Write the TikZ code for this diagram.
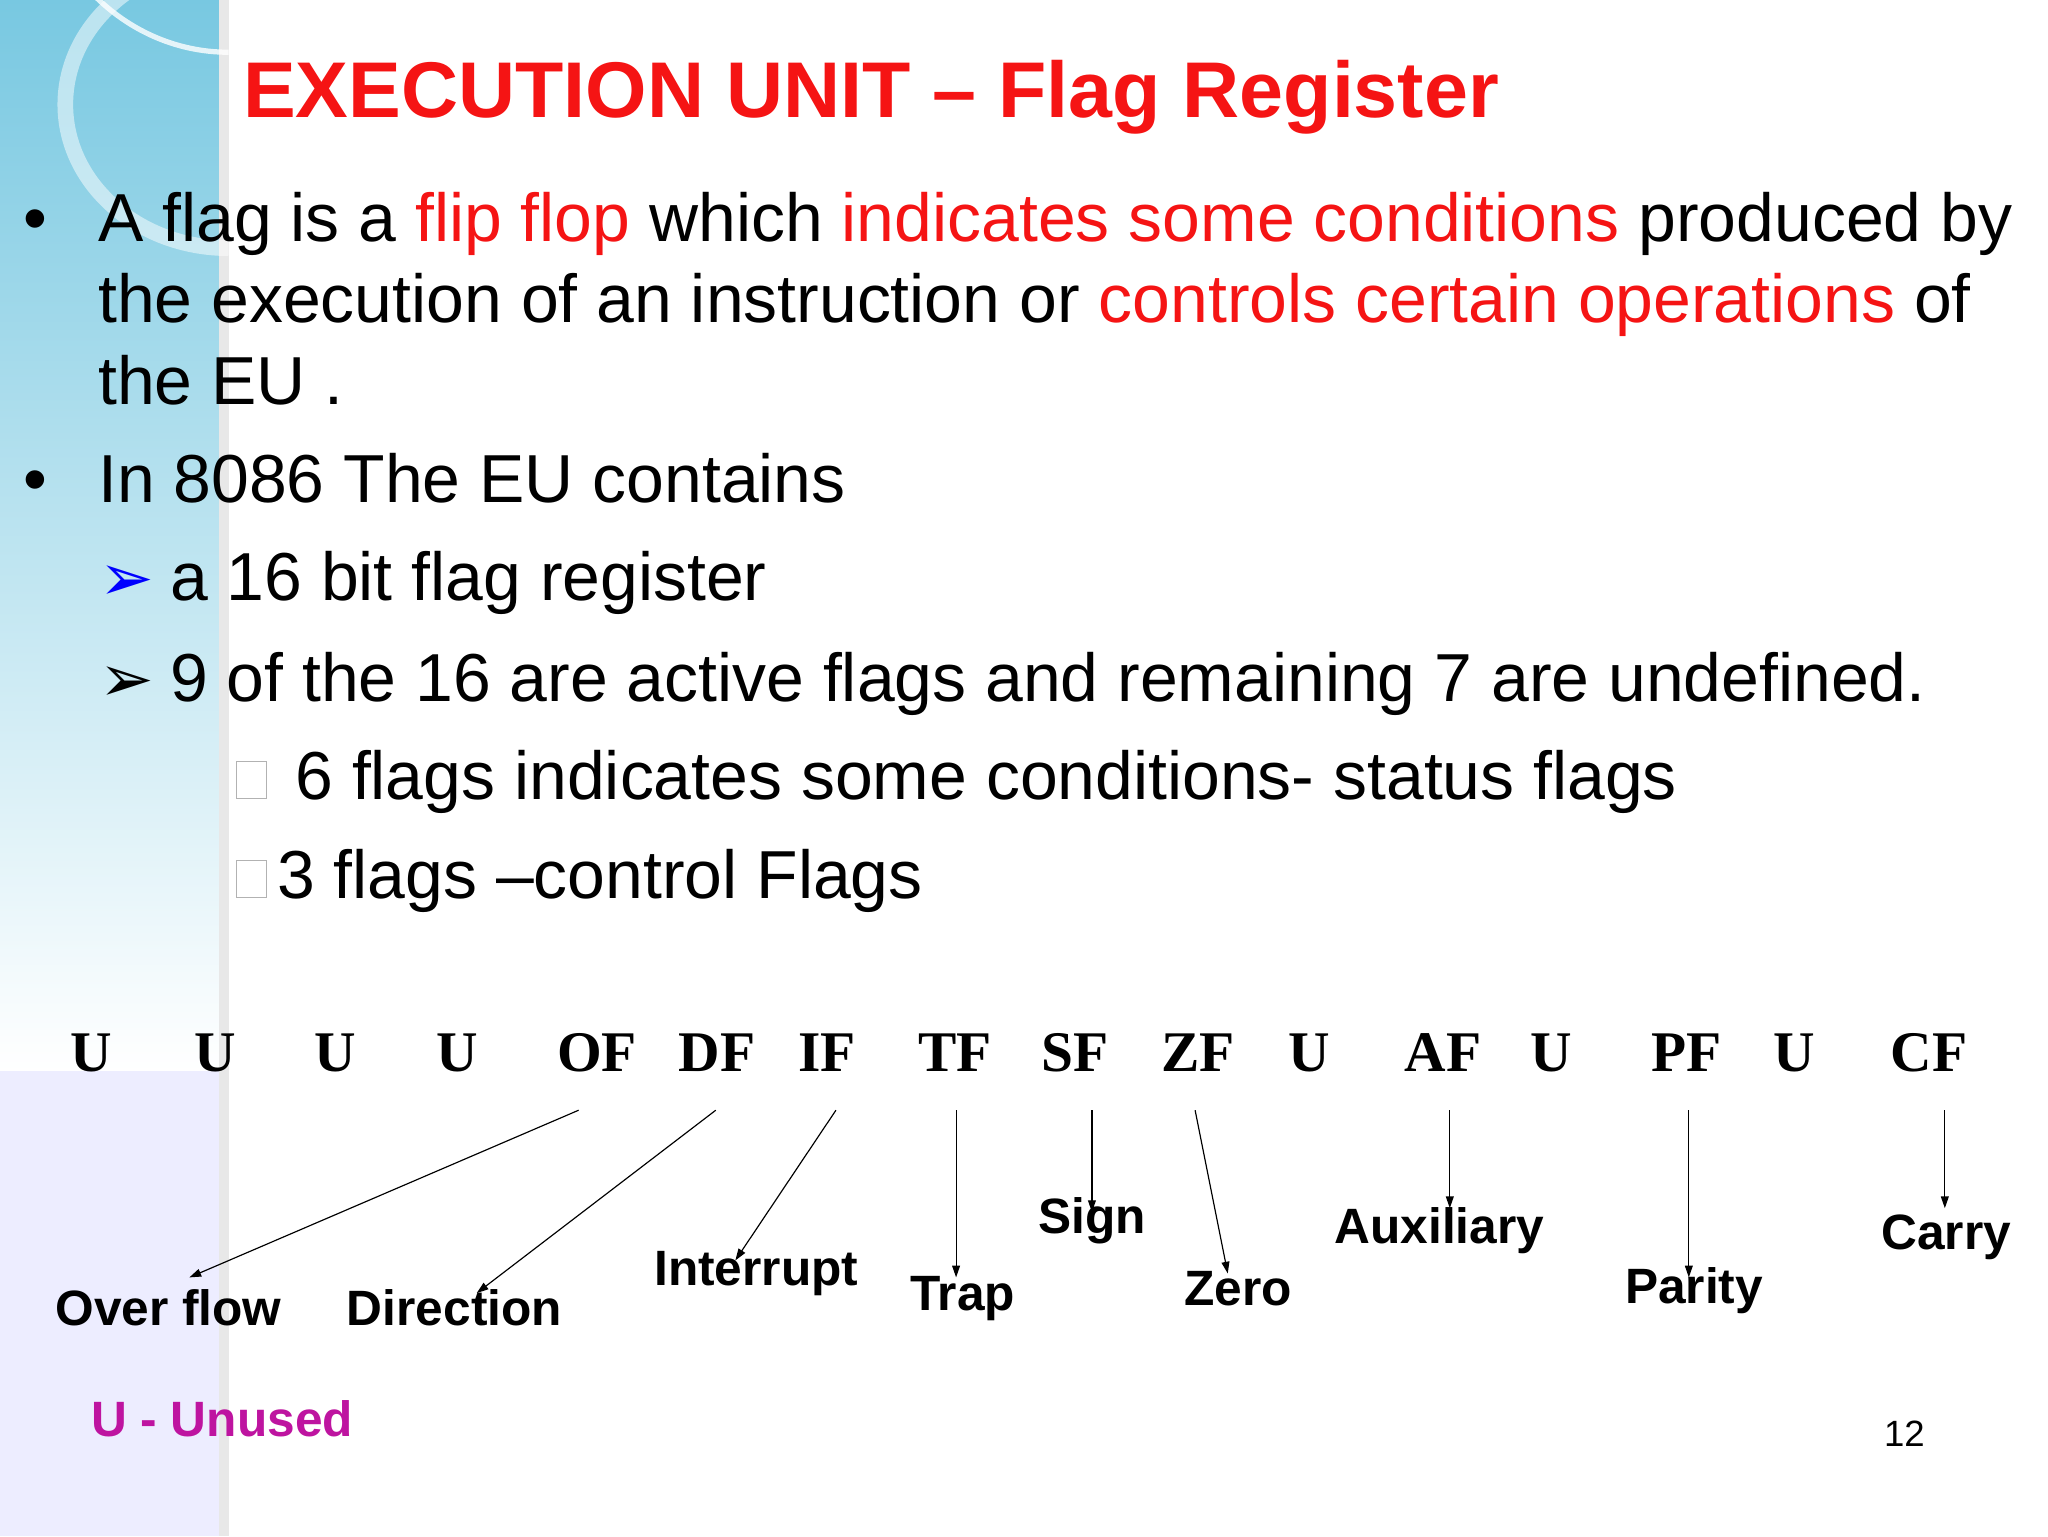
\documentclass[tikz,border=0pt]{standalone}
\usepackage{fontspec}
\setmainfont{Liberation Sans}
\newfontfamily\flagfont{Liberation Serif}
\newfontfamily\symfont{DejaVu Sans}
\usetikzlibrary{arrows.meta}
\definecolor{tred}{RGB}{245,20,20}
\definecolor{umag}{RGB}{190,20,160}
\definecolor{strip}{RGB}{120,200,225}
\begin{document}
\begin{tikzpicture}[x=1pt,y=-1pt,
  body/.style={anchor=base west,inner sep=0,font=\fontsize{52}{54}\selectfont},
  flag/.style={anchor=base,inner sep=0,font=\flagfont\bfseries\fontsize{44}{46}\selectfont},
  lbl/.style={inner sep=0,font=\bfseries\fontsize{38}{40}\selectfont},
  arr/.style={-{Triangle[length=9pt,width=6pt]},line width=0.9pt}]
\useasboundingbox (0,0) rectangle (1568,1176);
\fill[white] (0,0) rectangle (1568,1176);
\shade[top color=strip, middle color=strip!60, bottom color=white] (0,0) rectangle (172,820);
\fill[white!93!blue] (0,820) rectangle (172,1176);
\fill[gray!18] (168,0) rectangle (175,1176);
\draw[white,line width=4pt,opacity=0.8] (175,40) arc (90:250:150 and 160);
\draw[white,line width=12pt,opacity=0.5] (175,190) arc (90:270:125 and 110);
% title
\node[anchor=base west,inner sep=0,text=tred,font=\bfseries\fontsize{60.5}{62}\selectfont] (title) at (186,90) {EXECUTION UNIT – Flag Register};
% body
\node[body] (b1) at (18,185) {•};
\node[body] (l1) at (75,185) {A flag is a \textcolor{tred}{flip flop} which \textcolor{tred}{indicates some conditions} produced by};
\node[body] (l2) at (75,247) {the execution of an instruction or \textcolor{tred}{controls certain operations} of};
\node[body] (l3) at (75,310) {the EU .};
\node[body] (b2) at (18,385) {•};
\node[body] (l4) at (75,385) {In 8086 The EU contains};
\node[body,text=blue,font=\symfont\fontsize{50}{52}\selectfont] (a1) at (76,460) {➢};
\node[body] (l5) at (130,460) {a 16 bit flag register};
\node[body,font=\symfont\fontsize{50}{52}\selectfont] (a2) at (76,537) {➢};
\node[body] (l6) at (130,537) {9 of the 16 are active flags and remaining 7 are undefined.};
\draw[gray!60] (181,583) rectangle (204,611);
\node[body] (l7) at (226,612) {6 flags indicates some conditions- status flags};
\draw[gray!60] (181,659) rectangle (204,687);
\node[body] (l8) at (212,688) {3 flags –control Flags};
% flags
\foreach \n/\x/\t in {u1/70/U,u2/165/U,u3/257/U,u4/350/U,of/457/OF,df/549/DF,if/633/IF,tf/731/TF,sf/823/SF,zf/917/ZF,u5/1002/U,af/1105/AF,u6/1188/U,pf/1291/PF,u7/1374/U,cf/1477/CF}
  \node[flag] (\n) at (\x,820) {\t};
% labels
\node[lbl] (ov) at (129,1001) {Over flow};
\node[lbl] (di) at (348,1001) {Direction};
\node[lbl] (in) at (579,975) {Interrupt};
\node[lbl] (tr) at (737,994) {Trap};
\node[lbl] (si) at (836,935) {Sign};
\node[lbl] (ze) at (948,987) {Zero};
\node[lbl] (au) at (1102,942) {Auxiliary};
\node[lbl] (pa) at (1297,988) {Parity};
\node[lbl] (ca) at (1490,947) {Carry};
% arrow endpoints
\foreach \n/\x/\y in {s1/443/850,e1/145/978,s2/548/850,e2/365/990,s3/640/850,e3/563/965,s4/732/850,e4/732/978,s5/836/850,e5/836/928,s6/915/850,e6/940/975,s7/1110/850,e7/1110/925,s8/1293/850,e8/1293/978,s9/1489/850,e9/1489/925}
  \coordinate (\n) at (\x,\y);
\foreach \i in {1,...,9} \draw[arr] (s\i) -- (e\i);
\node[inner sep=0,text=umag,font=\bfseries\fontsize{38}{40}\selectfont] (un) at (170,1086) {U - Unused};
\node[inner sep=0,font=\fontsize{28}{30}\selectfont] (pg) at (1458,1098) {12};
\end{tikzpicture}
\end{document}
